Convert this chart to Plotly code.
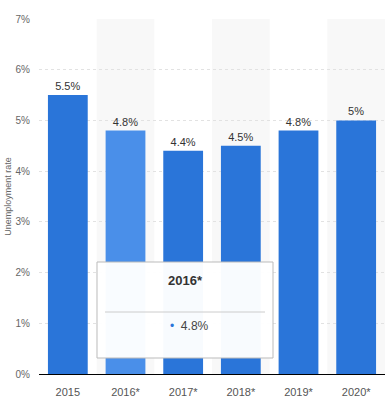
import plotly.graph_objects as go

years = ["2015", "2016*", "2017*", "2018*", "2019*", "2020*"]
rates = [5.5, 4.8, 4.4, 4.5, 4.8, 5.0]
labels = ["5.5%", "4.8%", "4.4%", "4.5%", "4.8%", "5%"]
y_ticks = [0, 1, 2, 3, 4, 5, 6, 7]
y_tick_text = ["0%", "1%", "2%", "3%", "4%", "5%", "6%", "7%"]
highlight = "2016*"
tooltip_title = "2016*"
tooltip_value = "4.8%"

font_family = "Liberation Sans, Arial, sans-serif"
colors = ["#4a8fe9" if y == highlight else "#2a75d9" for y in years]

fig = go.Figure()
fig.add_trace(go.Bar(
    x=years, y=rates, marker=dict(color=colors, line=dict(width=0)),
    text=labels, textposition="outside", cliponaxis=False,
    textfont=dict(size=11, color="#333333", family=font_family),
    width=0.69, hoverinfo="skip",
))

shapes = []
for i in range(1, len(years), 2):
    shapes.append(dict(type="rect", xref="x", yref="y", x0=i - 0.5, x1=i + 0.5,
                       y0=0, y1=7, fillcolor="#f8f8f8", line=dict(width=0), layer="below"))

# tooltip (paper coords)
L, T, W, H = 39, 19, 346, 355
def px(x):
    return (x - L) / W
def py(y):
    return (T + H - y) / H

shapes.append(dict(type="rect", xref="paper", yref="paper", x0=px(97), x1=px(273),
                   y0=py(358), y1=py(262), fillcolor="rgba(255,255,255,0.97)",
                   line=dict(color="#bbbbbb", width=1), layer="above"))
shapes.append(dict(type="line", xref="paper", yref="paper", x0=px(105), x1=px(265),
                   y0=py(312), y1=py(312), line=dict(color="#cccccc", width=1), layer="above"))

annotations = [
    dict(xref="paper", yref="paper", x=px(185), y=py(290), text="<b>" + tooltip_title + "</b>",
         showarrow=False, font=dict(size=13, color="#333333", family=font_family)),
    dict(xref="paper", yref="paper", x=px(168), y=py(335),
         text="<span style='color:#2a75d9'>•</span>  " + tooltip_value, xanchor="left",
         showarrow=False, font=dict(size=12, color="#444444", family=font_family)),
]

fig.update_layout(
    width=385, height=414,
    margin=dict(l=39, r=0, t=19, b=40, autoexpand=False),
    paper_bgcolor="white", plot_bgcolor="white",
    showlegend=False, bargap=0.31,
    font=dict(family=font_family, color="#666666"),
    shapes=shapes, annotations=annotations,
    xaxis=dict(showgrid=False, showline=True, linecolor="#000000", linewidth=1,
               tickfont=dict(size=11, color="#555555"), ticks="", fixedrange=True,
               automargin=False, ticklabelstandoff=8),
    yaxis=dict(range=[0, 7], tickvals=y_ticks, ticktext=y_tick_text,
               showgrid=True, gridcolor="#e2e2e2", griddash="dot", gridwidth=1,
               zeroline=False, tickfont=dict(size=10, color="#666666"), ticks="",
               ticklabelstandoff=8, automargin=False, fixedrange=True,
               title=dict(text="Unemployment rate", font=dict(size=9, color="#666666"), standoff=2)),
)

fig.write_html("out.html", config={"displayModeBar": False, "staticPlot": True})

# remove default page margin so the figure sits at the window's top-left corner
with open("out.html", "r", encoding="utf-8") as f:
    html = f.read()
html = html.replace("<head>", "<head><style>html,body{margin:0;padding:0;overflow:hidden}</style>", 1)
with open("out.html", "w", encoding="utf-8") as f:
    f.write(html)
